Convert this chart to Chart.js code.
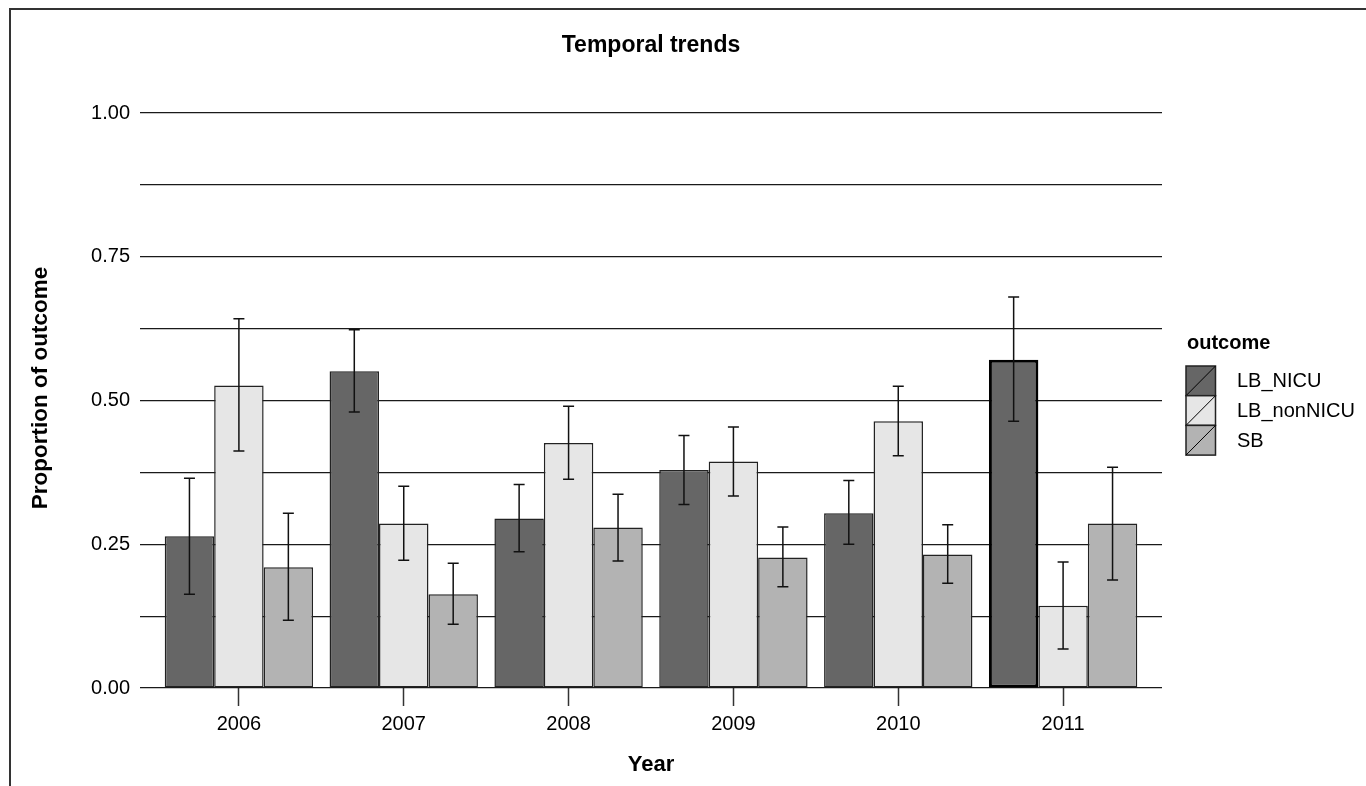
<!DOCTYPE html>
<html>
<head>
<meta charset="utf-8">
<title>Temporal trends</title>
<script src="https://cdn.jsdelivr.net/npm/chart.js@4.4.1/dist/chart.umd.min.js"></script>
<style>
  html, body { margin: 0; padding: 0; background: #ffffff; }
  #wrap { width: 1366px; height: 786px; }
</style>
</head>
<body>
<div id="wrap"><canvas id="c" width="1366" height="786"></canvas></div>
<script>
// ---- data ----
const years = ['2006', '2007', '2008', '2009', '2010', '2011'];
const outcomes = ['LB_NICU', 'LB_nonNICU', 'SB'];

const lbNicu      = [0.264, 0.551, 0.295, 0.379, 0.304, 0.571];
const lbNicuLow   = [0.163, 0.480, 0.237, 0.319, 0.250, 0.464];
const lbNicuHigh  = [0.365, 0.623, 0.354, 0.439, 0.361, 0.680];

const lbNonNicu     = [0.526, 0.286, 0.426, 0.394, 0.464, 0.143];
const lbNonNicuLow  = [0.412, 0.222, 0.363, 0.334, 0.404, 0.068];
const lbNonNicuHigh = [0.642, 0.351, 0.490, 0.454, 0.525, 0.219];

const sb      = [0.210, 0.163, 0.279, 0.227, 0.232, 0.286];
const sbLow   = [0.118, 0.111, 0.221, 0.176, 0.182, 0.188];
const sbHigh  = [0.304, 0.217, 0.337, 0.280, 0.284, 0.384];

const yTickStep = 0.125;

// ---- helpers ----
const toPoints = arr => arr.map((v, i) => ({ x: i + 1, y: v }));
const FONT = "'Liberation Sans', Arial, Helvetica, sans-serif";
const fills = ['#666666', '#E6E6E6', '#B3B3B3'];
const lows = [lbNicuLow, lbNonNicuLow, sbLow];
const highs = [lbNicuHigh, lbNonNicuHigh, sbHigh];

const frame = {
  id: 'frame',
  beforeDraw(chart) {
    const ctx = chart.ctx;
    ctx.save();
    ctx.fillStyle = '#ffffff';
    ctx.fillRect(0, 0, chart.width, chart.height);
    ctx.strokeStyle = '#333333';
    ctx.lineWidth = 2;
    ctx.beginPath();
    ctx.moveTo(10, chart.height);
    ctx.lineTo(10, 9);
    ctx.lineTo(chart.width, 9);
    ctx.stroke();
    ctx.restore();
  }
};

const errorBars = {
  id: 'errorBars',
  afterDatasetsDraw(chart) {
    const ctx = chart.ctx;
    const ys = chart.scales.y;
    ctx.save();
    ctx.strokeStyle = '#111111';
    ctx.lineWidth = 1.5;
    chart.data.datasets.forEach((ds, di) => {
      const meta = chart.getDatasetMeta(di);
      meta.data.forEach((el, j) => {
        const x = el.x;
        const y1 = ys.getPixelForValue(lows[di][j]);
        const y2 = ys.getPixelForValue(highs[di][j]);
        const hw = 5.5;
        ctx.beginPath();
        ctx.moveTo(x, y1); ctx.lineTo(x, y2);
        ctx.moveTo(x - hw, y1); ctx.lineTo(x + hw, y1);
        ctx.moveTo(x - hw, y2); ctx.lineTo(x + hw, y2);
        ctx.stroke();
      });
    });
    ctx.restore();
  }
};

const sideLegend = {
  id: 'sideLegend',
  afterDraw(chart) {
    const ctx = chart.ctx;
    const area = chart.chartArea;
    const x0 = area.right + 24;
    const keyW = 29.5, keyH = 29.7;
    const top = 366;
    ctx.save();
    ctx.fillStyle = '#000000';
    ctx.font = 'bold 20px ' + FONT;
    ctx.textBaseline = 'middle';
    ctx.textAlign = 'left';
    ctx.fillText('outcome', x0 + 1, 343);
    chart.data.datasets.forEach((ds, i) => {
      const y = top + i * keyH;
      ctx.fillStyle = ds.backgroundColor;
      ctx.fillRect(x0, y, keyW, keyH);
      ctx.strokeStyle = '#222222';
      ctx.lineWidth = 1.5;
      ctx.strokeRect(x0, y, keyW, keyH);
      ctx.lineWidth = 1;
      ctx.strokeStyle = '#000000';
      ctx.beginPath();
      ctx.moveTo(x0, y + keyH);
      ctx.lineTo(x0 + keyW, y);
      ctx.stroke();
      ctx.fillStyle = '#000000';
      ctx.font = '20px ' + FONT;
      ctx.fillText(ds.label, x0 + 51, y + keyH / 2 + 1);
    });
    ctx.restore();
  }
};

new Chart(document.getElementById('c'), {
  type: 'bar',
  data: {
    datasets: [
      { label: outcomes[0], data: toPoints(lbNicu), backgroundColor: fills[0],
        borderColor: ['#222222','#222222','#222222','#222222','#222222','#000000'],
        borderWidth: [1.5, 1.5, 1.5, 1.5, 1.5, 3] },
      { label: outcomes[1], data: toPoints(lbNonNicu), backgroundColor: fills[1],
        borderColor: '#222222', borderWidth: 1.5 },
      { label: outcomes[2], data: toPoints(sb), backgroundColor: fills[2],
        borderColor: '#222222', borderWidth: 1.5 }
    ]
  },
  options: {
    responsive: false,
    animation: false,
    layout: { padding: { left: 0, right: 204, top: 0, bottom: 0 } },
    datasets: {
      bar: { categoryPercentage: 0.9, barPercentage: 1.0, borderSkipped: false, inflateAmount: 0 }
    },
    plugins: {
      legend: { display: false },
      tooltip: { enabled: false },
      title: {
        display: true,
        text: 'Temporal trends',
        fullSize: false,
        color: '#000000',
        font: { family: FONT, size: 23, weight: 'bold', lineHeight: 1.2 },
        padding: { top: 32.2, bottom: 53.2 }
      }
    },
    scales: {
      x: {
        type: 'linear',
        min: 0.4,
        max: 6.6,
        offset: false,
        afterBuildTicks(scale) {
          scale.ticks = years.map((y, i) => ({ value: i + 1 }));
        },
        afterFit(scale) { scale.height = 98; },
        ticks: {
          autoSkip: false,
          maxRotation: 0,
          padding: 6,
          color: '#000000',
          font: { family: FONT, size: 20, lineHeight: 1.2 },
          callback: (v) => years[Math.round(v) - 1] ?? ''
        },
        grid: {
          display: true,
          offset: false,
          drawOnChartArea: false,
          drawTicks: true,
          tickLength: 18,
          tickColor: '#333333',
          tickWidth: 1.5
        },
        border: { display: false },
        title: {
          display: true,
          text: 'Year',
          color: '#000000',
          font: { family: FONT, size: 22, weight: 'bold', lineHeight: 1.2 },
          padding: { top: 0, bottom: 7.8 }
        }
      },
      y: {
        min: 0,
        max: 1,
        afterFit(scale) { scale.width = 140; },
        ticks: {
          stepSize: yTickStep,
          padding: 10,
          color: '#000000',
          font: { family: FONT, size: 20, lineHeight: 1.2 },
          callback: (v) => (Math.abs(v * 4 - Math.round(v * 4)) < 1e-6) ? v.toFixed(2) : ''
        },
        grid: {
          color: '#1a1a1a',
          lineWidth: 1.2,
          drawTicks: false
        },
        border: { display: false },
        title: {
          display: true,
          text: '    Proportion of outcome',
          color: '#000000',
          font: { family: FONT, size: 22.5, weight: 'bold', lineHeight: 1.2 },
          padding: { top: 27.5, bottom: 0 }
        }
      }
    }
  },
  plugins: [frame, errorBars, sideLegend]
});
</script>
</body>
</html>
